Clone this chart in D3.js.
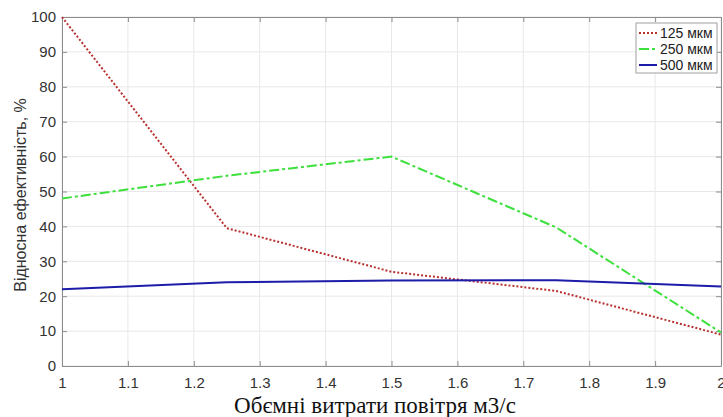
<!DOCTYPE html>
<html>
<head>
<meta charset="utf-8">
<script src="https://cdn.jsdelivr.net/npm/d3@7"></script>
<style>
  html, body { margin: 0; padding: 0; background: #fff; }
  svg { display: block; }
  text { font-family: "Liberation Sans", Arial, sans-serif; }
</style>
</head>
<body>
<svg id="chart" width="723" height="417"></svg>
<script>
// Air flow rate, m3/s
const flowRates = [1, 1.25, 1.5, 1.75, 2];

// Relative efficiency (%) per particle size
const eff125 = [100, 39.5, 27, 21.5, 9];
const eff250 = [48, 54.5, 60, 39.7, 9.6];
const eff500 = [22, 24, 24.5, 24.6, 22.8];

const xTicks = [1, 1.1, 1.2, 1.3, 1.4, 1.5, 1.6, 1.7, 1.8, 1.9, 2];
const yTicks = [0, 10, 20, 30, 40, 50, 60, 70, 80, 90, 100];

const seriesNames = ["125 мкм", "250 мкм", "500 мкм"];
const seriesValues = [eff125, eff250, eff500];
const seriesStyles = [
  { color: "#b8312f", dash: "2,2", width: 2 },
  { color: "#3de03d", dash: "10,3,3,3", width: 2 },
  { color: "#1c1ca8", dash: null, width: 2 }
];

const svg = d3.select("#chart");
const plotL = 62, plotR = 721, plotT = 17, plotB = 366;

const x = d3.scaleLinear().domain([1, 2]).range([plotL, plotR]);
const y = d3.scaleLinear().domain([0, 100]).range([plotB, plotT]);

// grid
const grid = svg.append("g");
grid.selectAll(".gx").data(xTicks).join("line")
  .attr("x1", d => x(d)).attr("x2", d => x(d))
  .attr("y1", plotT).attr("y2", plotB)
  .attr("stroke", "#e8e8e8").attr("stroke-width", 1);
grid.selectAll(".gy").data(yTicks).join("line")
  .attr("x1", plotL).attr("x2", plotR)
  .attr("y1", d => y(d)).attr("y2", d => y(d))
  .attr("stroke", "#e8e8e8").attr("stroke-width", 1);

// axes with inward ticks
const axisColor = "#8c8c8c";
function styleAxis(g) {
  g.select(".domain").attr("stroke", axisColor);
  g.selectAll(".tick line").attr("stroke", axisColor);
  g.selectAll(".tick text").attr("fill", "#333")
    .style("font-family", '"Liberation Sans", Arial, sans-serif')
    .style("font-size", "15px");
}

svg.append("g").attr("transform", `translate(0,${plotB})`)
  .call(d3.axisBottom(x).tickValues(xTicks).tickFormat(d3.format("")).tickSizeInner(-5).tickSizeOuter(0).tickPadding(11))
  .call(styleAxis);
svg.append("g").attr("transform", `translate(0,${plotT})`)
  .call(d3.axisTop(x).tickValues(xTicks).tickFormat("").tickSizeInner(-5).tickSizeOuter(0))
  .call(styleAxis);
svg.append("g").attr("transform", `translate(${plotL},0)`)
  .call(d3.axisLeft(y).tickValues(yTicks).tickFormat(d3.format("")).tickSizeInner(-5).tickSizeOuter(0).tickPadding(6))
  .call(styleAxis);
svg.append("g").attr("transform", `translate(${plotR},0)`)
  .call(d3.axisRight(y).tickValues(yTicks).tickFormat("").tickSizeInner(-5).tickSizeOuter(0))
  .call(styleAxis);

// series lines
const line = d3.line().x((d, i) => x(flowRates[i])).y(d => y(d));
seriesValues.forEach((vals, k) => {
  const s = seriesStyles[k];
  svg.append("path").datum(vals)
    .attr("d", line)
    .attr("fill", "none")
    .attr("stroke", s.color)
    .attr("stroke-width", s.width)
    .attr("stroke-dasharray", s.dash);
});

// legend
const lg = svg.append("g");
lg.append("rect").attr("x", 636).attr("y", 23).attr("width", 81).attr("height", 50)
  .attr("fill", "#fff").attr("stroke", "#a0a0a0").attr("stroke-width", 1);
seriesNames.forEach((name, k) => {
  const s = seriesStyles[k];
  const cy = 33 + k * 16;
  lg.append("line").attr("x1", 639).attr("x2", 657).attr("y1", cy).attr("y2", cy)
    .attr("stroke", s.color).attr("stroke-width", s.width).attr("stroke-dasharray", s.dash);
  lg.append("text").attr("x", 660).attr("y", cy + 5)
    .attr("fill", "#222").style("font-size", "14px").text(name);
});

// axis titles
svg.append("text")
  .attr("x", 375).attr("y", 413)
  .attr("text-anchor", "middle")
  .attr("fill", "#111")
  .style("font-family", '"Liberation Serif", "Times New Roman", serif')
  .style("font-size", "23px")
  .text("Обємні витрати повітря м3/с");

svg.append("text")
  .attr("transform", "translate(26,195) rotate(-90)")
  .attr("text-anchor", "middle")
  .attr("fill", "#333")
  .style("font-size", "16px")
  .text("Відносна ефективність, %");
</script>
</body>
</html>
